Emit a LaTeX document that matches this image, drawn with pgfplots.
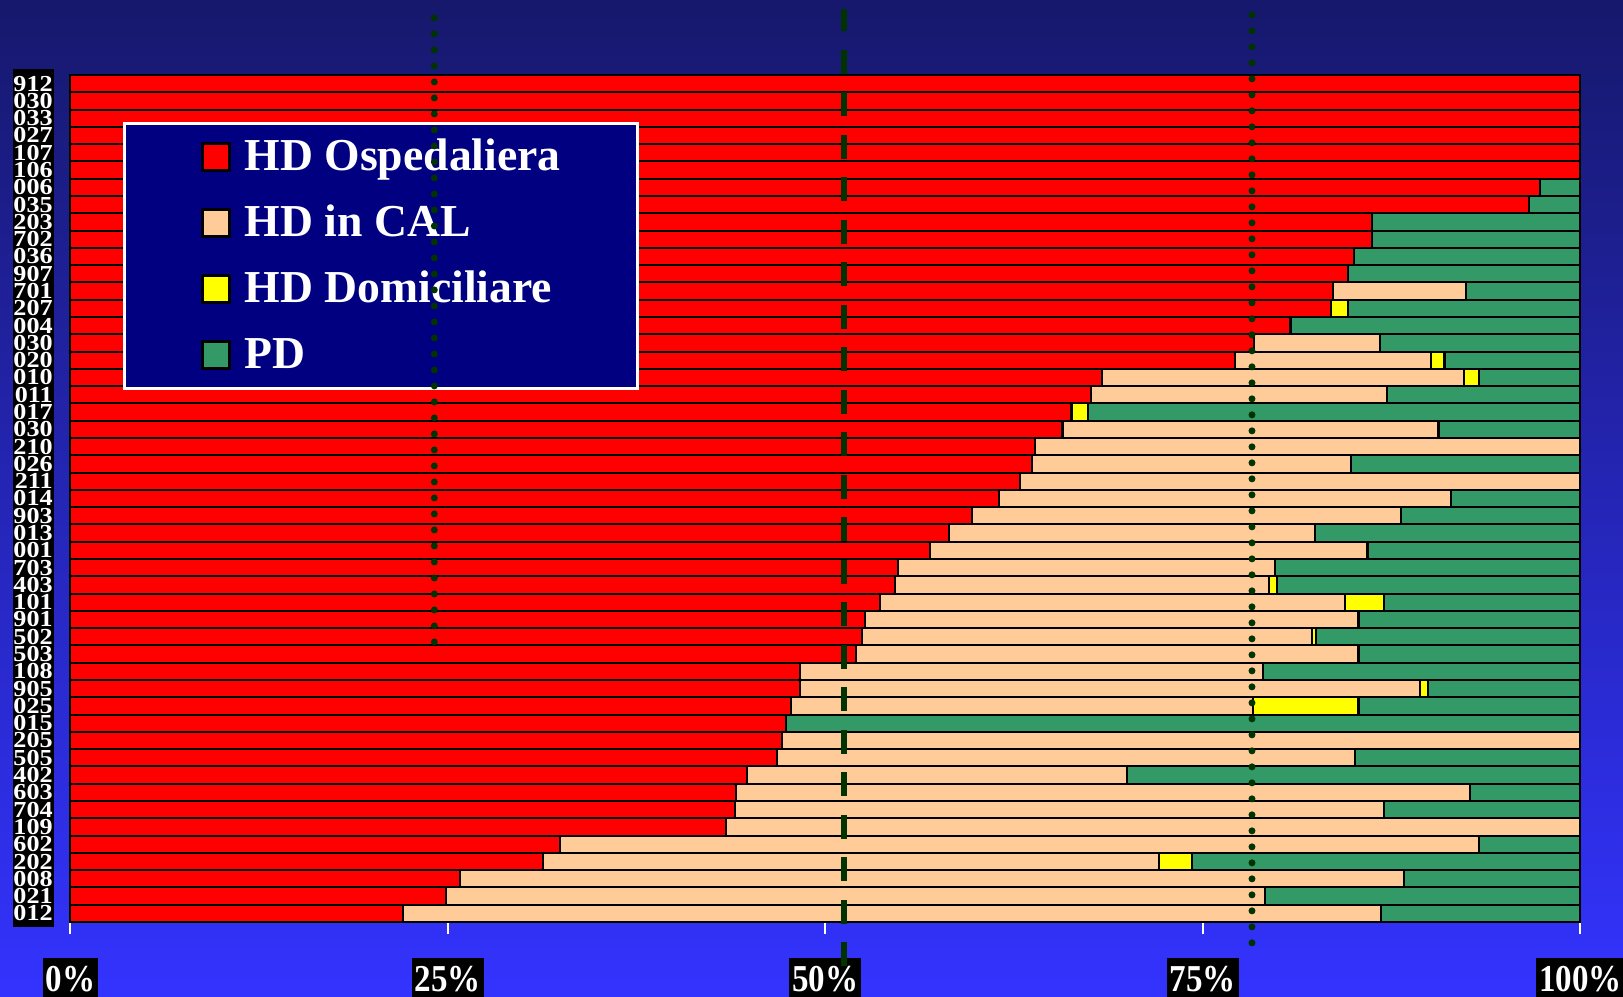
\documentclass[border=0pt]{standalone}
\usepackage{fontspec}
\setmainfont{Liberation Serif}
\usepackage{graphicx}
\usepackage{pgfplots}
\usepackage{pgfplotstable}
\pgfplotsset{compat=1.18}
\definecolor{cRed}{HTML}{FF0000}
\definecolor{cCal}{HTML}{FFCC99}
\definecolor{cYel}{HTML}{FFFF00}
\definecolor{cPD}{HTML}{339966}
\definecolor{cNavy}{HTML}{000080}
\definecolor{cLine}{HTML}{003300}
\definecolor{bgTop}{HTML}{16186C}
\definecolor{bgBot}{HTML}{3333FF}
\newcommand\yl[1]{\scalebox{1.2}[1.05]{#1}}
\newcommand\xl[1]{\scalebox{1}[1.15]{#1}}
\pgfplotstableread{
y red cal yel pd
0 100 0 0 0
1 100 0 0 0
2 100 0 0 0
3 100 0 0 0
4 100 0 0 0
5 100 0 0 0
6 97.3 0 0 2.7
7 96.6 0 0 3.4
8 86.2 0 0 13.8
9 86.2 0 0 13.8
10 85.0 0 0 15.0
11 84.6 0 0 15.4
12 83.6 8.8 0 7.6
13 83.5 0 1.1 15.4
14 80.8 0 0 19.2
15 78.4 8.3 0 13.3
16 77.1 13.0 0.9 9.0
17 68.3 24.0 1.0 6.7
18 67.6 19.6 0 12.8
19 66.3 0 1.1 32.6
20 65.7 24.9 0 9.4
21 63.9 36.1 0 0
22 63.7 21.1 0 15.2
23 62.9 37.1 0 0
24 61.5 29.9 0 8.6
25 59.7 28.4 0 11.9
26 58.2 24.2 0 17.6
27 56.9 29.0 0 14.1
28 54.8 25.0 0 20.2
29 54.6 24.8 0.5 20.1
30 53.6 30.8 2.6 13.0
31 52.6 32.7 0 14.7
32 52.4 29.8 0.3 17.5
33 52.0 33.3 0 14.7
34 48.3 30.7 0 21.0
35 48.3 41.1 0.5 10.1
36 47.7 30.6 7.0 14.7
37 47.4 0 0 52.6
38 47.1 52.9 0 0
39 46.8 38.3 0 14.9
40 44.8 25.2 0 30.0
41 44.1 48.6 0 7.3
42 44.0 43.0 0 13.0
43 43.4 56.6 0 0
44 32.4 60.9 0 6.7
45 31.3 40.8 2.2 25.7
46 25.8 62.5 0 11.7
47 24.9 54.2 0 20.9
48 22.0 64.8 0 13.2
}\datatable
\begin{document}
\begin{tikzpicture}
\useasboundingbox (0,0) rectangle (162.3mm,99.7mm);
\clip (0,0) rectangle (162.3mm,99.7mm);
\shade[top color=bgTop, bottom color=bgBot] (0,0) rectangle (162.3mm,99.7mm);
\fill[black] (1.27mm,7.0mm) rectangle (5.4mm,92.8mm);
\begin{axis}[
  at={(7.04mm,7.5mm)}, anchor=south west,
  width=151.0mm, height=84.7mm, scale only axis,
  xbar stacked, bar width=1,
  xmin=0, xmax=100, ymin=-0.5, ymax=48.5, y dir=reverse,
  axis x line*=bottom, axis y line*=left,
  x axis line style={white, line width=0.6pt, -},
  y axis line style={draw=none},
  xtick={0,25,50,75,100},
  xticklabels={\xl{0\%},\xl{25\%},\xl{50\%},\xl{75\%},\xl{100\%}},
  xtick style={white, line width=0.6pt},
  tick align=outside, major tick length=1.2mm,
  xticklabel style={font=\bfseries\fontsize{9.4}{9.4}\selectfont, text=white, fill=black, inner xsep=0.3mm, inner ysep=0.8mm, text height=2.6mm, text depth=1.2mm, anchor=north, yshift=-2.3mm},
  ytick={0,...,48},
  yticklabels={\yl{912},\yl{030},\yl{033},\yl{027},\yl{107},\yl{106},\yl{006},\yl{035},\yl{203},\yl{702},\yl{036},\yl{907},\yl{701},\yl{207},\yl{004},\yl{030},\yl{020},\yl{010},\yl{011},\yl{017},\yl{030},\yl{210},\yl{026},\yl{211},\yl{014},\yl{903},\yl{013},\yl{001},\yl{703},\yl{403},\yl{101},\yl{901},\yl{502},\yl{503},\yl{108},\yl{905},\yl{025},\yl{015},\yl{205},\yl{505},\yl{402},\yl{603},\yl{704},\yl{109},\yl{602},\yl{202},\yl{008},\yl{021},\yl{012}},
  ytick style={draw=none},
  yticklabel style={font=\bfseries\fontsize{6.2}{6.2}\selectfont, text=white, anchor=east, inner sep=0pt, xshift=-0.5mm},
  every axis plot/.append style={draw=black, line width=0.6pt},
  legend style={at={(0.0348,0.9445)}, anchor=north west, fill=cNavy, draw=white, line width=0.8pt, text=white,
    font=\bfseries\fontsize{13}{13}\selectfont, inner xsep=7.65mm, inner ysep=1.45mm, row sep=2.8mm, column sep=1.4mm,
    nodes={inner sep=0pt, text height=3.3mm, text depth=0.5mm}},
  legend cell align=left,
  legend image code/.code={\draw[#1, draw=black, line width=0.8pt] (0mm,-1.35mm) rectangle (2.7mm,1.35mm);},
  clip=false,
]
\addplot[fill=cRed] table[x=red, y=y] {\datatable};
\addplot[fill=cCal] table[x=cal, y=y] {\datatable};
\addplot[fill=cYel] table[x=yel, y=y] {\datatable};
\addplot[fill=cPD] table[x=pd, y=y] {\datatable};
\legend{HD Ospedaliera, HD in CAL, HD Domiciliare, PD}
\coordinate (a1) at (axis cs:24.1,-3.8);
\coordinate (a2) at (axis cs:24.1,32.8);
\coordinate (b1) at (axis cs:51.2,-4.3);
\coordinate (b2) at (axis cs:51.2,51.06);
\coordinate (c1) at (axis cs:78.25,-3.98);
\coordinate (c2) at (axis cs:78.25,50.2);
\end{axis}
\draw[cLine, line width=0.7mm, line cap=round, dash pattern=on 0pt off 1.6mm] (a1) -- (a2);
\draw[cLine, line width=0.6mm, dash pattern=on 2.4mm off 1.85mm] (b2) -- (b1);
\draw[cLine, line width=0.7mm, line cap=round, dash pattern=on 0pt off 1.6mm] (c1) -- (c2);
\end{tikzpicture}
\end{document}
